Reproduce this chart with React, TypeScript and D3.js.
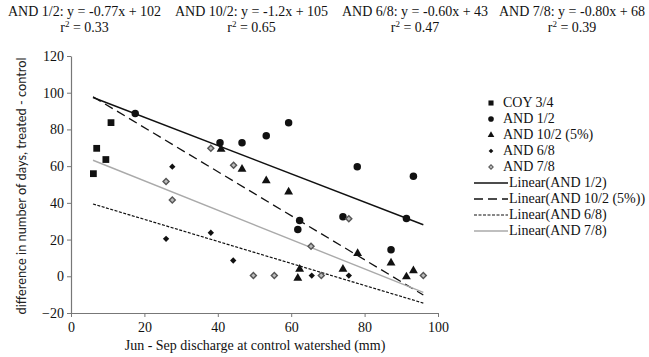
import { useRef, useEffect } from 'react'
import * as d3 from 'd3'

// series values: [discharge (mm), difference (days)]
const coy34: [number, number][] = [[6.1, 55.9], [7.0, 69.7], [9.5, 63.6], [10.9, 83.7]]
const and12: [number, number][] = [
  [17.5, 88.7], [40.6, 72.7], [46.6, 72.7], [53.2, 76.6], [59.3, 83.7], [78.0, 59.7],
  [93.3, 54.5], [62.3, 30.4], [61.8, 25.5], [74.1, 32.4], [91.4, 31.5], [87.2, 14.5],
]
const and102: [number, number][] = [
  [40.9, 69.5], [46.6, 58.6], [53.2, 52.4], [59.3, 46.2], [78.1, 12.7], [87.2, 7.6],
  [62.3, 4.2], [61.8, -0.7], [74.1, 4.2], [91.4, 0], [93.3, 3.3],
]
const and68: [number, number][] = [
  [25.9, 20.4], [27.6, 59.7], [38.1, 23.7], [44.2, 8.6], [65.6, 0.4], [75.7, 0.4],
]
const and78: [number, number][] = [
  [38.1, 69.7], [44.3, 60.5], [25.9, 51.6], [27.6, 41.5], [49.7, 0.4], [55.4, 0.4],
  [65.4, 16.4], [68.2, 0.4], [75.7, 31.3], [96.0, 0.4],
]

// trendlines (slope, intercept) as printed above the chart
const trendNames = ['AND 1/2', 'AND 10/2', 'AND 6/8', 'AND 7/8']
const trendSlopes = [-0.77, -1.2, -0.60, -0.80]
const trendIntercepts = [102, 105, 43, 68]
const trendR2 = ['0.33', '0.65', '0.47', '0.39']
const trendSlopeLabels = ['-0.77', '-1.2', '-0.60', '-0.80']
const trendXRange = [6, 96]

const xTicks = [0, 20, 40, 60, 80, 100]
const yTicks = [-20, 0, 20, 40, 60, 80, 100, 120]

const serif = '"Liberation Serif", "DejaVu Serif", serif'

export default function App() {
  const svgRef = useRef<SVGSVGElement | null>(null)

  useEffect(() => {
    if (!svgRef.current) return
    const svg = d3.select(svgRef.current)
    svg.selectAll('*').remove()

    const W = 649, H = 357
    svg.append('rect').attr('width', W).attr('height', H).attr('fill', '#fff')

    const x = d3.scaleLinear().domain([0, 100]).range([71, 438])
    const y = d3.scaleLinear().domain([-20, 120]).range([313, 56])

    // equations on top
    const eqX = [8, 175, 342, 499]
    trendNames.forEach((name, i) => {
      const t = svg.append('text').attr('x', eqX[i]).attr('y', 16)
        .attr('font-family', serif).attr('font-size', '14px').attr('fill', '#111')
        .text(`${name}: y = ${trendSlopeLabels[i]}x + ${trendIntercepts[i]}`)
      const w = (t.node() as SVGTextElement).getComputedTextLength()
      const r = svg.append('text').attr('x', eqX[i] + w / 2).attr('y', 32)
        .attr('text-anchor', 'middle')
        .attr('font-family', serif).attr('font-size', '14px').attr('fill', '#111')
      r.append('tspan').text('r')
      r.append('tspan').attr('dy', -5).attr('font-size', '9px').text('2')
      r.append('tspan').attr('dy', 5).text(' = ' + trendR2[i])
    })

    // axes
    const xAxis = svg.append('g').attr('transform', `translate(0,${y(-20)})`)
      .call(d3.axisBottom(x).tickValues(xTicks).tickSize(4).tickSizeOuter(0))
    xAxis.select('.domain').attr('stroke', '#777').attr('stroke-width', 1.2)
    xAxis.selectAll('line').attr('stroke', '#777')
    xAxis.selectAll('text').attr('font-family', serif).attr('font-size', '14px').attr('fill', '#111').attr('dy', '0.85em')

    const yAxis = svg.append('g').attr('transform', `translate(${x(0)},0)`)
      .call(d3.axisLeft(y).tickValues(yTicks).tickSize(4).tickSizeOuter(0))
    yAxis.select('.domain').attr('stroke', '#777').attr('stroke-width', 1.2)
    yAxis.selectAll('line').attr('stroke', '#777')
    yAxis.selectAll('text').attr('font-family', serif).attr('font-size', '14px').attr('fill', '#111')

    svg.append('text').attr('x', 255).attr('y', 350).attr('text-anchor', 'middle')
      .attr('font-family', serif).attr('font-size', '14px').attr('fill', '#111')
      .text('Jun - Sep discharge at control watershed (mm)')
    svg.append('text').attr('transform', `translate(26,186) rotate(-90)`).attr('text-anchor', 'middle')
      .attr('font-family', 'Lato, "Open Sans", sans-serif').attr('font-size', '12.8px').attr('fill', '#222')
      .text('difference in number of days, treated - control')

    // trendlines
    const lineStyles = [
      { stroke: '#111', dash: null as string | null, width: 1.4 },
      { stroke: '#111', dash: '9,5', width: 1.3 },
      { stroke: '#111', dash: '3,1.5', width: 1.2 },
      { stroke: '#aaa', dash: null as string | null, width: 1.4 },
    ]
    trendSlopes.forEach((m, i) => {
      const pts = trendXRange.map(v => [v, m * v + trendIntercepts[i]] as [number, number])
      const p = svg.append('path')
        .attr('d', d3.line<[number, number]>().x(d => x(d[0])).y(d => y(d[1]))(pts) as string)
        .attr('fill', 'none').attr('stroke', lineStyles[i].stroke).attr('stroke-width', lineStyles[i].width)
      if (lineStyles[i].dash) p.attr('stroke-dasharray', lineStyles[i].dash)
    })

    // markers
    const sym = {
      square: d3.symbol().type(d3.symbolSquare).size(46),
      circle: d3.symbol().type(d3.symbolCircle).size(44),
      triangle: d3.symbol().type(d3.symbolTriangle).size(34),
      diamond: d3.symbol().type(d3.symbolSquare).size(20),
      openDiamond: d3.symbol().type(d3.symbolSquare).size(18),
    }
    const series = [
      { name: 'COY 3/4', data: coy34, path: sym.square(), fill: '#111', stroke: 'none', dy: 0, rot: 0 },
      { name: 'AND 1/2', data: and12, path: sym.circle(), fill: '#111', stroke: 'none', dy: 0, rot: 0 },
      { name: 'AND 10/2 (5%)', data: and102, path: sym.triangle(), fill: '#111', stroke: 'none', dy: 0.5, rot: 0 },
      { name: 'AND 6/8', data: and68, path: sym.diamond(), fill: '#111', stroke: 'none', dy: 0, rot: 45 },
      { name: 'AND 7/8', data: and78, path: sym.openDiamond(), fill: '#bbb', stroke: '#555', dy: 0, rot: 45 },
    ]
    series.forEach(s => {
      svg.append('g').selectAll('path').data(s.data).enter().append('path')
        .attr('d', s.path)
        .attr('transform', d => `translate(${x(d[0])},${y(d[1]) + s.dy}) rotate(${s.rot})`)
        .attr('fill', s.fill).attr('stroke', s.stroke).attr('stroke-width', 1.4)
    })

    // legend
    const legend = svg.append('g').attr('transform', 'translate(0,107)')
    const rowH = 16
    series.forEach((s, i) => {
      legend.append('path').attr('d', s.path)
        .attr('transform', `translate(491,${i * rowH - 4}) scale(0.75) rotate(${s.rot})`)
        .attr('fill', s.fill).attr('stroke', s.stroke).attr('stroke-width', 1.3)
      legend.append('text').attr('x', 503).attr('y', i * rowH)
        .attr('font-family', serif).attr('font-size', '14px').attr('fill', '#111').text(s.name)
    })
    const lineLabels = ['Linear(AND 1/2)', 'Linear(AND 10/2 (5%))', 'Linear(AND 6/8)', 'Linear(AND 7/8)']
    lineLabels.forEach((label, i) => {
      const yy = (i + 5) * rowH
      const l = legend.append('line').attr('x1', 474).attr('x2', 508).attr('y1', yy - 4).attr('y2', yy - 4)
        .attr('stroke', lineStyles[i].stroke).attr('stroke-width', lineStyles[i].width)
      if (lineStyles[i].dash) l.attr('stroke-dasharray', lineStyles[i].dash)
      legend.append('text').attr('x', 509).attr('y', yy)
        .attr('font-family', serif).attr('font-size', '14px').attr('fill', '#111').text(label)
    })
  }, [])

  return (
    <svg ref={svgRef} width={649} height={357}
      style={{ position: 'absolute', left: 0, top: 0, display: 'block' }} />
  )
}
